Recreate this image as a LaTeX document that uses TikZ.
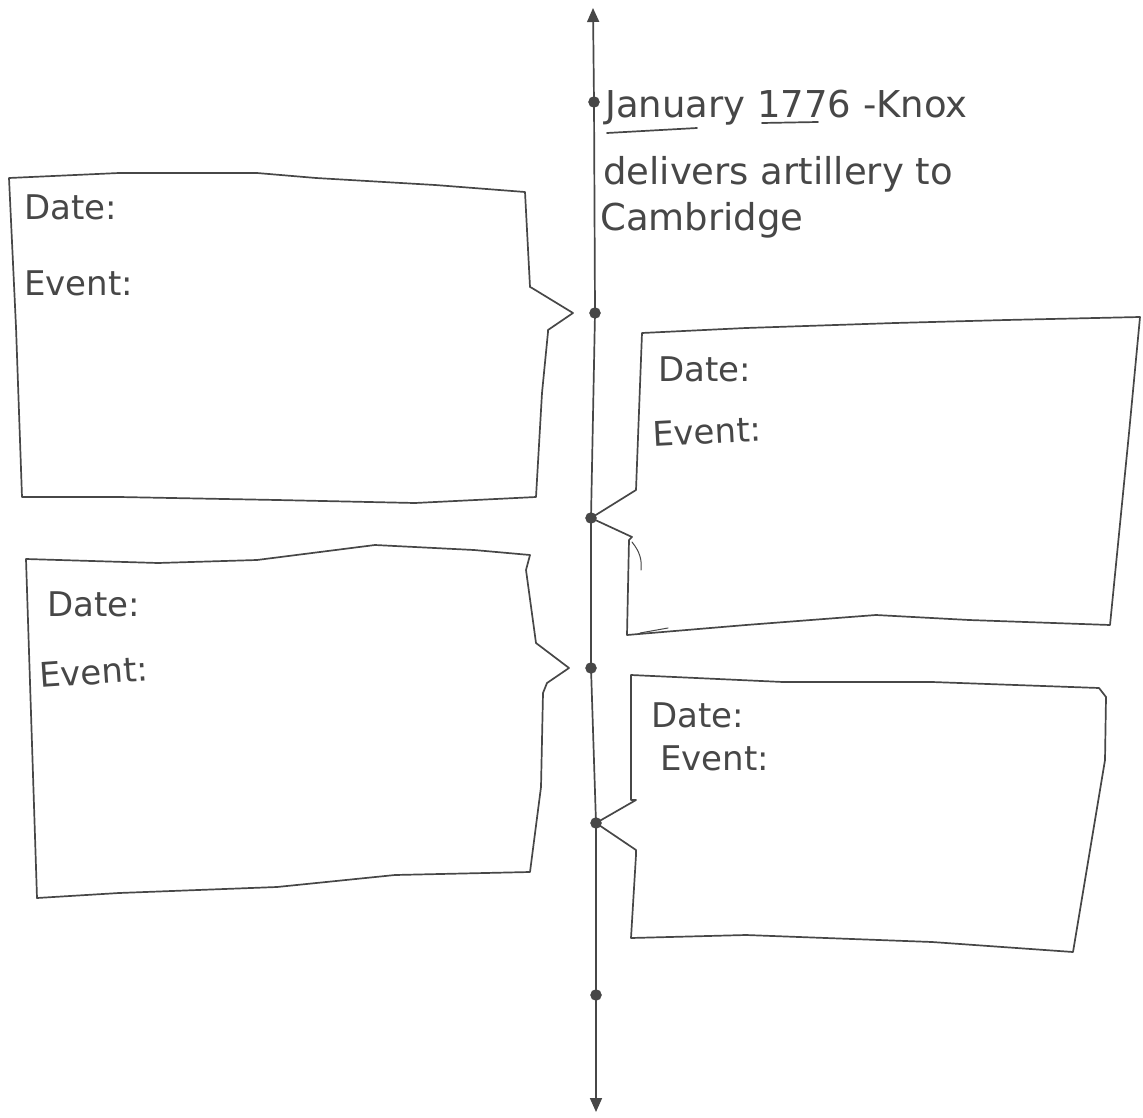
\documentclass[tikz,border=0pt]{standalone}
\usepackage{fontspec}
\setmainfont{DejaVu Sans}
\usetikzlibrary{arrows.meta}
\definecolor{ink}{HTML}{474747}
\begin{document}
\begin{tikzpicture}[x=1pt,y=-1pt,
  ink line/.style={draw=ink,line width=1.7pt,line join=round,line cap=round},
  dotnode/.style={circle,fill=ink,draw=ink,inner sep=0pt,minimum size=11pt},
  lbl/.style={anchor=base west,inner sep=0pt,text=ink,font=\fontsize{34}{40}\selectfont},
  toptext/.style={anchor=base west,inner sep=0pt,text=ink,font=\fontsize{37}{44}\selectfont},
  axisline/.style={ink line,{Triangle[width=12pt,length=14pt]}-{Triangle[width=12pt,length=14pt]}}
]
\path[use as bounding box] (0,0) rectangle (1143,1118);

% timeline
\coordinate (top) at (593,8);
\coordinate (bot) at (596,1112);
\node[dotnode] (d1) at (594,102) {};
\node[dotnode] (d2) at (595,313) {};
\node[dotnode] (d3) at (591,518) {};
\node[dotnode] (d4) at (591,668) {};
\node[dotnode] (d5) at (596,823) {};
\node[dotnode] (d6) at (596,995) {};
\draw[axisline] (top) -- (d1.center) -- (d2.center) -- (d3.center) -- (d4.center) -- (d5.center) -- (d6.center) -- (bot);

% top annotation
\node[toptext] (t1) at (605,118) {January 1776 -Knox};
\node[toptext] (t2) at (603,185) {delivers artillery to};
\node[toptext] (t3) at (600,231) {Cambridge};
\draw[ink line] (607,133) -- (697,128);
\draw[ink line] (762,123) -- (818,122);

% box 1 (left, upper)
\draw[ink line] (9,178) -- (119,173) -- (257,173) -- (316,178) -- (435,185) -- (525,192)
  -- (530,287) -- (532,288) -- (573,313) coordinate (b1tip) -- (548,330) -- (548,332)
  -- (542,393) -- (536,497) -- (415,503) -- (277,500) -- (119,497) -- (22,497)
  -- (16,327) -- cycle;
\node[lbl] (b1date) at (24,220) {Date:};
\node[lbl] (b1event) at (24,295) {Event:};

% box 2 (right, upper)
\draw[ink line] (642,333) -- (746,328) -- (895,323) -- (1006,320) -- (1140,317)
  -- (1129,433) -- (1110,625) -- (969,620) -- (876,615) -- (746,625) -- (627,635)
  -- (629,540) -- (632,537) -- (d3.center) -- (636,490) -- cycle;
\draw[ink line,line width=1pt] (632,542) .. controls (640,552) and (642,560) .. (641,570);
\draw[ink line,line width=1pt] (640,633) -- (668,628);
\node[lbl] (b2date) at (658,381) {Date:};
\node[lbl,rotate=3] (b2event) at (653,447) {Event:};

% box 3 (left, lower)
\draw[ink line] (26,559) -- (158,563) -- (257,560) -- (375,545) -- (474,550) -- (530,555)
  -- (526,570) -- (536,643) -- (569,668) coordinate (b3tip) -- (547,683) -- (543,693)
  -- (541,787) -- (530,872) -- (395,875) -- (277,887) -- (119,893) -- (37,898) -- cycle;
\node[lbl] (b3date) at (47,616) {Date:};
\node[lbl,rotate=4] (b3event) at (40,688) {Event:};

% box 4 (right, lower)
\draw[ink line] (631,675) -- (783,682) -- (932,682) -- (1099,688) -- (1106,697) -- (1105,760)
  -- (1073,952) -- (932,942) -- (746,935) -- (631,938) -- (636,855) -- (636,850)
  -- (d5.center) -- (636,800) -- (631,800) -- cycle;
\node[lbl] (b4date) at (651,727) {Date:};
\node[lbl] (b4event) at (660,770) {Event:};
\end{tikzpicture}
\end{document}
